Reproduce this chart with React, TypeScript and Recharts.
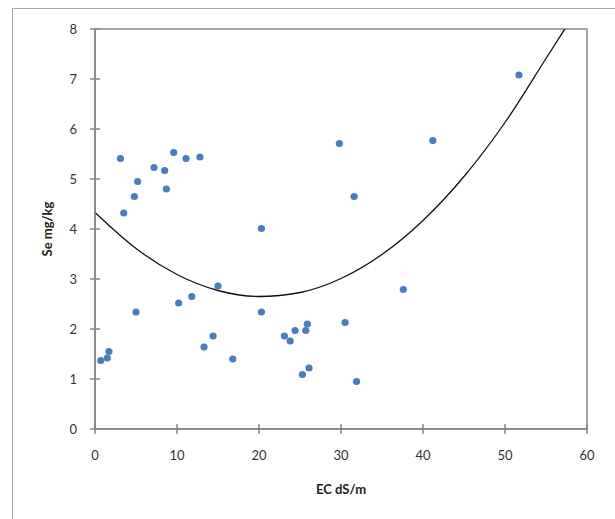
import React from "react";
import {
  ComposedChart,
  Scatter,
  Line,
  XAxis,
  YAxis,
  ReferenceArea,
} from "recharts";

// EC (dS/m) and Se (mg/kg) of each sample
const ecValues = [
  3.1, 3.5, 4.8, 5.2, 7.2, 8.5, 8.7, 9.6, 11.1, 12.8, 20.3,
  5.0, 10.2, 11.8, 15.0, 0.7, 1.5, 1.7, 13.3, 14.4, 16.8, 20.3,
  23.1, 23.8, 24.4, 25.7, 25.9, 25.3, 26.1, 30.5, 31.9,
  29.8, 41.2, 31.6, 37.6, 51.7,
];
const seValues = [
  5.41, 4.32, 4.65, 4.95, 5.23, 5.17, 4.8, 5.53, 5.41, 5.44, 4.01,
  2.34, 2.52, 2.65, 2.86, 1.37, 1.42, 1.55, 1.64, 1.86, 1.4, 2.34,
  1.86, 1.76, 1.97, 1.97, 2.1, 1.09, 1.22, 2.13, 0.95,
  5.71, 5.77, 4.65, 2.79, 7.08,
];

// polynomial trend line, read at a few points along the curve
const trendX = [0, 5, 10, 15, 20, 25, 30, 35, 40, 45, 50, 55, 57.3];
const trendY = [4.33, 3.61, 3.09, 2.77, 2.65, 2.73, 3.01, 3.49, 4.17, 5.05, 6.13, 7.41, 8.0];

const xTicks = [0, 10, 20, 30, 40, 50, 60];
const yTicks = [0, 1, 2, 3, 4, 5, 6, 7, 8];

const points = ecValues.map((x, i) => ({ x, y: seValues[i] }));
const trend = trendX.map((x, i) => ({ x, y: trendY[i] }));

const AXIS = "#868686";
const FONT = "Lato, 'Liberation Sans', sans-serif";

const XTick = (props: any) => {
  const { x, y, payload } = props;
  const axisY = y - 7;
  return (
    <g>
      <line x1={x} x2={x} y1={axisY - 5} y2={axisY + 5} stroke={AXIS} strokeWidth={1.5} />
      <text x={x} y={axisY + 26} dy="0.35em" textAnchor="middle" fill="#333" fontSize={13} fontFamily={FONT}>
        {payload.value}
      </text>
    </g>
  );
};

const YTick = (props: any) => {
  const { x, y, payload } = props;
  const axisX = x + 7;
  return (
    <g>
      <line x1={axisX - 5} x2={axisX + 5} y1={y} y2={y} stroke={AXIS} strokeWidth={1.5} />
      <text x={axisX - 18} y={y} dy="0.35em" textAnchor="end" fill="#333" fontSize={13} fontFamily={FONT}>
        {payload.value}
      </text>
    </g>
  );
};

const Dot = (props: any) => <circle cx={props.cx} cy={props.cy} r={3.6} fill="#4a7ebb" />;

export default function App() {
  return (
    <div style={{ position: "absolute", left: 0, top: 0, width: 615, height: 519, background: "#fff" }}>
      <div
        style={{
          position: "absolute",
          left: 12,
          top: 8,
          width: 603,
          height: 511,
          borderLeft: "1.5px solid #a6a6a6",
          borderTop: "1.5px solid #a6a6a6",
        }}
      />
      <ComposedChart
        width={615}
        height={519}
        margin={{ top: 29, right: 28, left: 0, bottom: 0 }}
        style={{ position: "absolute", left: 0, top: 0 }}
      >
        <XAxis
          type="number"
          dataKey="x"
          domain={[0, 60]}
          ticks={xTicks}
          height={90}
          tickSize={5}
          tickMargin={2}
          tickLine={false}
          tick={<XTick />}
          axisLine={{ stroke: AXIS, strokeWidth: 1.5 }}
          label={{
            value: "EC dS/m",
            position: "insideBottom",
            offset: 25,
            fill: "#222",
            fontSize: 13,
            fontWeight: "bold",
            fontFamily: FONT,
          }}
        />
        <YAxis
          type="number"
          dataKey="y"
          domain={[0, 8]}
          ticks={yTicks}
          width={95}
          allowDataOverflow
          tickSize={5}
          tickMargin={2}
          tickLine={false}
          tick={<YTick />}
          axisLine={{ stroke: AXIS, strokeWidth: 1.5 }}
          label={{
            value: "Se mg/kg",
            position: "center",
            angle: -90,
            fill: "#222",
            fontSize: 13,
            fontWeight: "bold",
            fontFamily: FONT,
          }}
        />
        <ReferenceArea x1={0} x2={60} y1={0} y2={8} fill="none" fillOpacity={0} stroke={AXIS} strokeWidth={1.5} />
        <Scatter data={points} dataKey="y" shape={<Dot />} isAnimationActive={false} />
        <Line
          data={trend}
          dataKey="y"
          type="monotone"
          stroke="#111"
          strokeWidth={1.3}
          dot={false}
          activeDot={false}
          isAnimationActive={false}
        />
      </ComposedChart>
    </div>
  );
}
